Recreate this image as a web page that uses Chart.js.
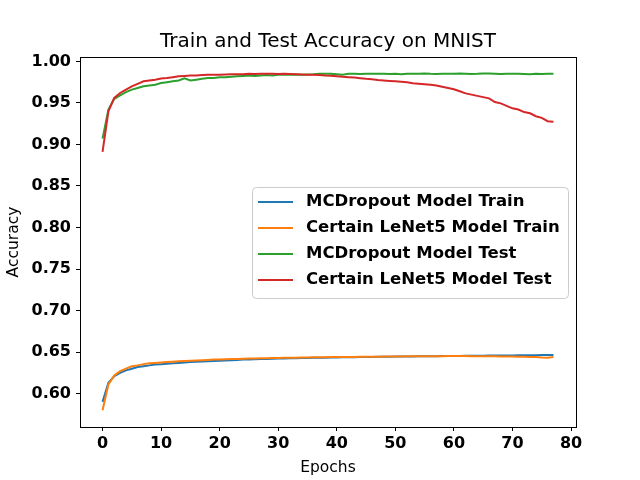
<!DOCTYPE html>
<html lang="en">
<head>
    <meta charset="UTF-8">
    <title>Train and Test Accuracy on MNIST</title>
    <script src="https://cdn.jsdelivr.net/npm/chart.js"></script>
    <style>
        body { margin: 0; background: #fff; }
        #chartContainer { width: 640px; height: 480px; }
    </style>
</head>
<body>
    <div id="chartContainer">
        <canvas id="accChart" width="640" height="480"></canvas>
    </div>

    <script>
        // Data
        const epochs = Array.from({ length: 78 }, (_, i) => i);

        const mcTrain = [
            0.590, 0.613, 0.621, 0.625, 0.628, 0.630, 0.632, 0.633, 0.634, 0.635,
            0.6355, 0.636, 0.6365, 0.637, 0.6375, 0.638, 0.6383, 0.6387, 0.639, 0.6393,
            0.6396, 0.640, 0.6403, 0.6406, 0.641, 0.6412, 0.6414, 0.6416, 0.6418, 0.642,
            0.6422, 0.6424, 0.6425, 0.6427, 0.6428, 0.643, 0.6431, 0.6432, 0.6433, 0.6434,
            0.6436, 0.6437, 0.6438, 0.6439, 0.644, 0.6441, 0.6442, 0.6443, 0.6444, 0.6445,
            0.6446, 0.6447, 0.6447, 0.6448, 0.6449, 0.645, 0.6451, 0.6451, 0.6452, 0.6453,
            0.6453, 0.6454, 0.6455, 0.6455, 0.6456, 0.6457, 0.6458, 0.6458, 0.6459, 0.646,
            0.646, 0.6461, 0.6462, 0.6462, 0.6463, 0.6464, 0.6465, 0.6465
        ];
        const lenetTrain = [
            0.580, 0.611, 0.622, 0.627, 0.630, 0.633, 0.634, 0.6355, 0.6365, 0.637,
            0.6375, 0.638, 0.6385, 0.639, 0.6393, 0.6396, 0.640, 0.6403, 0.6406, 0.641,
            0.6412, 0.6414, 0.6416, 0.6418, 0.642, 0.6422, 0.6424, 0.6425, 0.6427, 0.6428,
            0.643, 0.6431, 0.6432, 0.6433, 0.6434, 0.6436, 0.6437, 0.6438, 0.6439, 0.644,
            0.644, 0.6441, 0.6442, 0.6442, 0.6443, 0.6444, 0.6445, 0.6445, 0.6446, 0.6447,
            0.6447, 0.6448, 0.6449, 0.6449, 0.645, 0.645, 0.6451, 0.6451, 0.6451, 0.6452,
            0.6452, 0.6452, 0.6452, 0.6451, 0.6451, 0.645, 0.645, 0.6449, 0.6448, 0.6447,
            0.6446, 0.6445, 0.6444, 0.6442, 0.644, 0.6435, 0.6433, 0.644
        ];
        const mcTest = [
            0.907, 0.942, 0.955, 0.959, 0.963, 0.966, 0.968, 0.970, 0.971, 0.972,
            0.974, 0.975, 0.976, 0.977, 0.9795, 0.977, 0.978, 0.979, 0.980, 0.980,
            0.981, 0.981, 0.9815, 0.982, 0.9825, 0.983, 0.9825, 0.983, 0.9835, 0.983,
            0.984, 0.9838, 0.984, 0.9842, 0.984, 0.9843, 0.9845, 0.985, 0.985, 0.985,
            0.9845, 0.984, 0.985, 0.985, 0.9848, 0.985, 0.985, 0.9852, 0.985, 0.9848,
            0.985, 0.9845, 0.985, 0.9852, 0.985, 0.9855, 0.985, 0.9848, 0.985, 0.9852,
            0.985, 0.9853, 0.985, 0.9848, 0.985, 0.9855, 0.9853, 0.985, 0.9848, 0.985,
            0.9852, 0.985, 0.9848, 0.9845, 0.985, 0.9848, 0.985, 0.9852
        ];
        const lenetTest = [
            0.891, 0.940, 0.956, 0.962, 0.966, 0.970, 0.973, 0.976, 0.977, 0.978,
            0.9795, 0.980, 0.981, 0.982, 0.9825, 0.983, 0.983, 0.9835, 0.9838, 0.984,
            0.984, 0.9842, 0.9845, 0.9845, 0.9845, 0.985, 0.9848, 0.985, 0.985, 0.985,
            0.9848, 0.985, 0.9848, 0.9845, 0.9842, 0.984, 0.9838, 0.9835, 0.983, 0.9828,
            0.9822, 0.9815, 0.981, 0.9805, 0.9798, 0.979, 0.9785, 0.9775, 0.977, 0.9765,
            0.976, 0.9755, 0.9748, 0.9738, 0.9732, 0.9725, 0.9718, 0.971, 0.9695, 0.968,
            0.9665, 0.964, 0.9615, 0.960, 0.9585, 0.957, 0.9555, 0.951, 0.9495, 0.9465,
            0.9435, 0.942, 0.939, 0.9375, 0.934, 0.932, 0.928, 0.9273
        ];

        const seriesNames = [
            'MCDropout Model Train',
            'Certain LeNet5 Model Train',
            'MCDropout Model Test',
            'Certain LeNet5 Model Test'
        ];
        const xTicks = [0, 10, 20, 30, 40, 50, 60, 70, 80];
        const yTicks = [0.60, 0.65, 0.70, 0.75, 0.80, 0.85, 0.90, 0.95, 1.00];

        const colors = ['#1f77b4', '#ff7f0e', '#2ca02c', '#d62728'];
        const seriesData = [mcTrain, lenetTrain, mcTest, lenetTest];

        // matplotlib-like frame, title, axis labels and legend
        const decorPlugin = {
            id: 'decor',
            afterDraw(chart) {
                const { ctx, chartArea: a } = chart;
                ctx.save();

                // axes box
                ctx.strokeStyle = '#000';
                ctx.lineWidth = 1;
                ctx.strokeRect(a.left + 0.5, a.top + 0.5, a.right - a.left, a.bottom - a.top);

                // title
                ctx.fillStyle = '#000';
                ctx.textAlign = 'center';
                ctx.textBaseline = 'middle';
                ctx.font = '20px "DejaVu Sans"';
                ctx.fillText('Train and Test Accuracy on MNIST', (a.left + a.right) / 2, 42);

                // axis labels
                ctx.font = '15.5px "DejaVu Sans"';
                ctx.fillText('Epochs', (a.left + a.right) / 2, 468);
                ctx.save();
                ctx.translate(14, (a.top + a.bottom) / 2);
                ctx.rotate(-Math.PI / 2);
                ctx.fillText('Accuracy', 0, 0);
                ctx.restore();

                // legend
                const bx = 252, by = 187, bw = 316, bh = 111;
                ctx.beginPath();
                ctx.roundRect(bx + 0.5, by + 0.5, bw, bh, 4);
                ctx.fillStyle = 'rgba(255,255,255,0.8)';
                ctx.fill();
                ctx.strokeStyle = '#cccccc';
                ctx.stroke();

                ctx.font = 'bold 16.5px "DejaVu Sans"';
                ctx.textAlign = 'left';
                chart.data.datasets.forEach((ds, i) => {
                    const y = 202 + i * 26;
                    ctx.strokeStyle = ds.borderColor;
                    ctx.lineWidth = 2;
                    ctx.beginPath();
                    ctx.moveTo(258, y);
                    ctx.lineTo(293, y);
                    ctx.stroke();
                    ctx.fillStyle = '#000';
                    ctx.fillText(ds.label, 306, y);
                });

                ctx.restore();
            }
        };

        const ctx = document.getElementById('accChart').getContext('2d');
        const chart = new Chart(ctx, {
            type: 'line',
            data: {
                labels: epochs,
                datasets: seriesData.map((vals, i) => ({
                    label: seriesNames[i],
                    data: vals.map((v, j) => ({ x: epochs[j], y: v })),
                    borderColor: colors[i],
                    backgroundColor: colors[i],
                    borderWidth: 2,
                    pointRadius: 0,
                    tension: 0,
                    fill: false,
                    order: 3 - i   // later series drawn on top
                }))
            },
            options: {
                responsive: false,
                animation: false,
                devicePixelRatio: 1,
                layout: { padding: { left: 0, top: 57, right: 64, bottom: 0 } },
                scales: {
                    x: {
                        type: 'linear',
                        min: -3.85,
                        max: 80.85,
                        afterFit: s => { s.height = 53; },
                        afterBuildTicks: s => { s.ticks = xTicks.map(v => ({ value: v })); },
                        grid: { drawOnChartArea: false, tickLength: 4, color: '#000' },
                        border: { display: false },
                        ticks: {
                            autoSkip: false,
                            maxRotation: 0,
                            padding: 3,
                            color: '#000',
                            font: { family: 'DejaVu Sans', size: 16, weight: 'bold' },
                            callback: v => String(v)
                        }
                    },
                    y: {
                        min: 0.5598,
                        max: 1.0053,
                        afterFit: s => { s.width = 80; },
                        afterBuildTicks: s => { s.ticks = yTicks.map(v => ({ value: v })); },
                        grid: { drawOnChartArea: false, tickLength: 4, color: '#000' },
                        border: { display: false },
                        ticks: {
                            autoSkip: false,
                            padding: 5,
                            color: '#000',
                            font: { family: 'DejaVu Sans', size: 16, weight: 'bold' },
                            callback: v => v.toFixed(2)
                        }
                    }
                },
                plugins: {
                    legend: { display: false },
                    title: { display: false },
                    tooltip: { enabled: false }
                }
            },
            plugins: [decorPlugin]
        });
    </script>
</body>
</html>
